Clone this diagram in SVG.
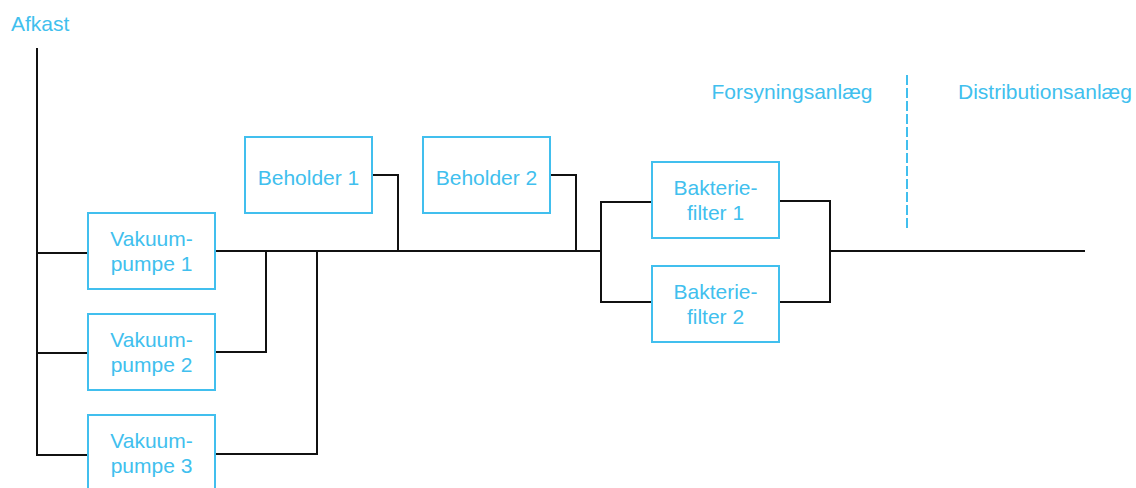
<svg xmlns="http://www.w3.org/2000/svg" width="1136" height="488" viewBox="0 0 1136 488">
  <style>
    .box { fill: #ffffff; stroke: #41bfee; stroke-width: 2; }
    .lbl { font-family: "Liberation Sans", Arial, sans-serif; font-size: 21px; fill: #41bfee; text-anchor: middle; }
    .head { font-family: "Liberation Sans", Arial, sans-serif; font-size: 21px; fill: #41bfee; }
    .pipe { fill: none; stroke: #111111; stroke-width: 2; stroke-linejoin: miter; stroke-linecap: square; }
    .divider { fill: none; stroke: #41bfee; stroke-width: 2; stroke-dasharray: 10 3; }
  </style>

  <rect width="1136" height="488" fill="#ffffff"/>

  <!-- section headings -->
  <text class="head" x="11" y="31">Afkast</text>
  <text class="lbl" x="792" y="99">Forsyningsanlæg</text>
  <text class="lbl" x="1045" y="99">Distributionsanlæg</text>
  <line class="divider" x1="907" y1="75" x2="907" y2="231"/>

  <!-- piping between units -->
  <g id="connectors">
    <!-- exhaust riser and feeds to the pumps -->
    <path class="pipe" d="M37,49 V455 H88"/>
    <path class="pipe" d="M37,253 H88"/>
    <path class="pipe" d="M37,353 H88"/>
    <!-- main header -->
    <path class="pipe" d="M215,251 H601"/>
    <path class="pipe" d="M215,352 H266 V251"/>
    <path class="pipe" d="M215,454 H317 V251"/>
    <!-- receivers -->
    <path class="pipe" d="M372,175 H398 V251"/>
    <path class="pipe" d="M550,175 H576 V251"/>
    <!-- bacteria filter manifold -->
    <path class="pipe" d="M652,202 H601 V302 H652"/>
    <path class="pipe" d="M779,201 H830 V302 H779"/>
    <path class="pipe" d="M830,251 H1084"/>
  </g>

  <g id="vakuumpumpe-1">
    <rect class="box" x="88" y="213" width="127" height="76"/>
    <text class="lbl" x="151.5" y="245.5">Vakuum-</text>
    <text class="lbl" x="151.5" y="270.5">pumpe 1</text>
  </g>
  <g id="vakuumpumpe-2">
    <rect class="box" x="88" y="314" width="127" height="76"/>
    <text class="lbl" x="151.5" y="346.5">Vakuum-</text>
    <text class="lbl" x="151.5" y="371.5">pumpe 2</text>
  </g>
  <g id="vakuumpumpe-3">
    <rect class="box" x="88" y="415" width="127" height="76"/>
    <text class="lbl" x="151.5" y="447.5">Vakuum-</text>
    <text class="lbl" x="151.5" y="472.5">pumpe 3</text>
  </g>
  <g id="beholder-1">
    <rect class="box" x="245" y="137" width="127" height="76"/>
    <text class="lbl" x="308.5" y="185">Beholder 1</text>
  </g>
  <g id="beholder-2">
    <rect class="box" x="423" y="137" width="127" height="76"/>
    <text class="lbl" x="486.5" y="185">Beholder 2</text>
  </g>
  <g id="bakteriefilter-1">
    <rect class="box" x="652" y="162" width="127" height="76"/>
    <text class="lbl" x="715.5" y="194.5">Bakterie-</text>
    <text class="lbl" x="715.5" y="219.5">filter 1</text>
  </g>
  <g id="bakteriefilter-2">
    <rect class="box" x="652" y="266" width="127" height="76"/>
    <text class="lbl" x="715.5" y="298.5">Bakterie-</text>
    <text class="lbl" x="715.5" y="323.5">filter 2</text>
  </g>
</svg>
